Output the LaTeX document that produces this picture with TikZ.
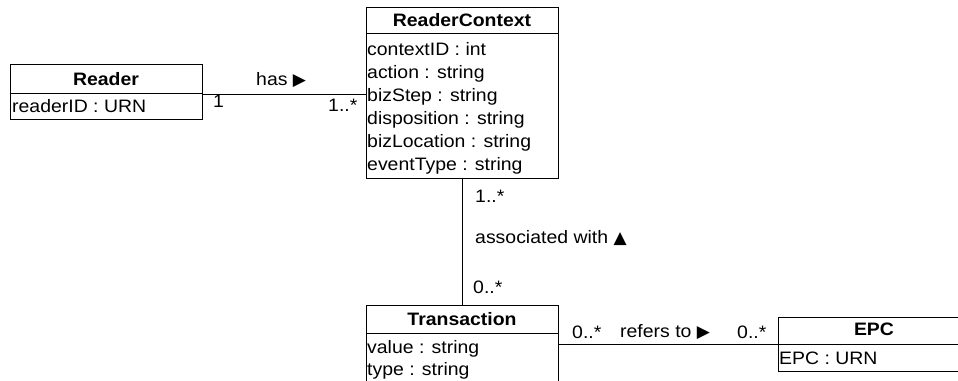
\documentclass[tikz,border=0pt]{standalone}
\usepackage{fontspec}
\setmainfont{Liberation Sans}[FakeStretch=1.08]
\newfontfamily\symf{DejaVu Sans}
\newcommand{\rarr}{{\symf\fontsize{17}{17}\selectfont ▶}}
\newcommand{\uarr}{{\symf\fontsize{17}{17}\selectfont ▲}}
\begin{document}
\begin{tikzpicture}[x=1pt,y=-1pt,
  box/.style={draw, line width=1pt, inner sep=0pt, anchor=north west, minimum width=192},
  txt/.style={inner sep=0pt, anchor=base west, font=\fontsize{18}{21}\selectfont},
  hdr/.style={inner sep=0pt, anchor=base, font=\fontsize{18}{21}\selectfont\bfseries},
  conn/.style={line width=1pt}]
\useasboundingbox (0,0) rectangle (958,380);
\clip (0,0) rectangle (958,380);
% Reader
\node[box, minimum height=29] (readerH) at (10,64) {};
\node[box, minimum height=26] (readerA) at (10,93) {};
\node[hdr] (readerT) at (106,85) {Reader};
\node[txt] (readerI) at (12,112) {readerID : URN};
% ReaderContext
\node[box, minimum height=26] (rcH) at (366,7) {};
\node[box, minimum height=145] (rcA) at (366,33) {};
\node[hdr] (rcT) at (462,27) {ReaderContext};
\node[txt] (rc1) at (367,55) {contextID : int};
\node[txt] (rc2) at (367,78) {action : string};
\node[txt] (rc3) at (367,101) {bizStep : string};
\node[txt] (rc4) at (367,124) {disposition : string};
\node[txt] (rc5) at (367,147) {bizLocation : string};
\node[txt] (rc6) at (367,170) {eventType : string};
% Transaction
\node[box, minimum height=28] (trH) at (366,305) {};
\node[box, minimum height=60] (trA) at (366,333) {};
\node[hdr] (trT) at (462,325) {Transaction};
\node[txt] (tr1) at (367,353) {value : string};
\node[txt] (tr2) at (367,375) {type : string};
% EPC
\node[box, minimum height=27] (epcH) at (778,317) {};
\node[box, minimum height=27] (epcA) at (778,344) {};
\node[hdr] (epcT) at (874,335) {EPC};
\node[txt] (epc1) at (779,364) {EPC : URN};
% connectors
\draw[conn] (readerH.south east) -- (readerH.south east -| rcA.west);
\draw[conn] (rcA.south) -- (trH.north);
\draw[conn] (trA.east |- epcA.north west) -- (epcA.north west);
% labels
\node[txt] (lhas) at (256,85) {has \rarr};
\node[txt] (lh1) at (213,107) {1};
\node[txt] (lh2) at (328,111) {1..*};
\node[txt] (la1) at (475,202) {1..*};
\node[txt] (la2) at (475,243) {associated with \uarr};
\node[txt] (la3) at (473,293) {0..*};
\node[txt] (lr1) at (572,338) {0..*};
\node[txt] (lr2) at (620,337) {refers to \rarr};
\node[txt] (lr3) at (737,338) {0..*};
\end{tikzpicture}
\end{document}
